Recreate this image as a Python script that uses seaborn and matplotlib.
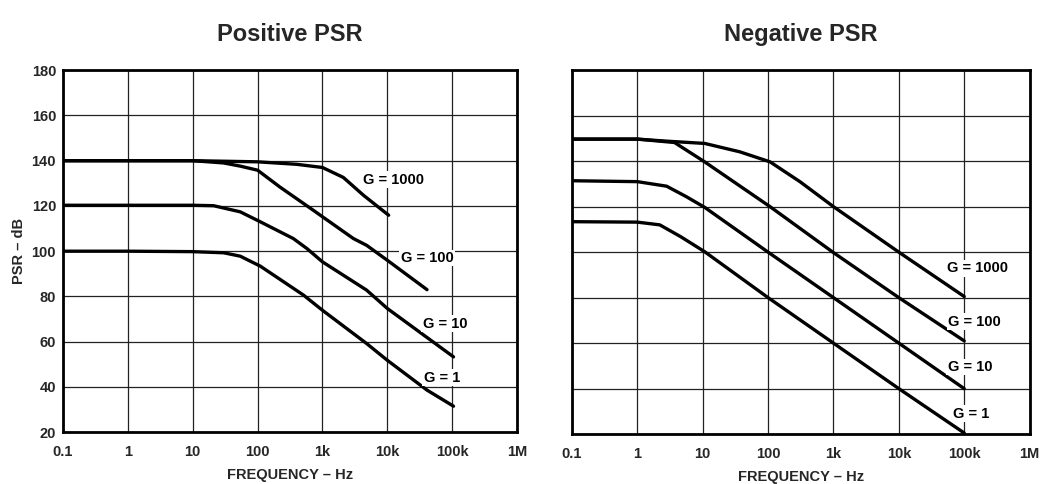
import numpy as np
import pandas as pd
import matplotlib
matplotlib.use("Agg")
import matplotlib.pyplot as plt
import seaborn as sns

# ---------------- data ----------------
gains = ["G = 1000", "G = 100", "G = 10", "G = 1"]

pos_f_1000 = [0.1, 1, 10, 100, 400, 1000, 2100, 4300, 10500]
pos_v_1000 = [140, 140, 140, 139.5, 138.4, 137, 132.6, 124.7, 115.9]
pos_f_100 = [0.1, 1, 10, 30, 54, 100, 220, 730, 3000, 4800, 10000, 41000]
pos_v_100 = [140, 140, 140, 139, 137.6, 135.8, 128.4, 118, 105.6, 102.6, 96, 83]
pos_f_10 = [0.1, 1, 10, 21, 54, 110, 355, 575, 1000, 4800, 10000, 105000]
pos_v_10 = [120.3, 120.3, 120.3, 120.1, 117.4, 113, 105.6, 101.2, 95.3, 82.8, 74.7, 53.3]
pos_f_1 = [0.1, 1, 10, 30, 54, 110, 510, 1000, 4800, 10000, 41000, 105000]
pos_v_1 = [100, 100, 99.8, 99.3, 97.8, 93.4, 80.6, 73.9, 59.2, 51.8, 38.6, 31.5]

neg_f_1000 = [0.1, 1, 2.8, 10.7, 37, 107, 310, 1000, 10000, 100000]
neg_v_1000 = [149.7, 149.7, 148.8, 147.8, 144.1, 139.7, 130.9, 120, 100, 80.5]
neg_f_100 = [0.1, 1, 3.7, 10.7, 107, 1000, 10000, 100000]
neg_v_100 = [149.7, 149.7, 148.2, 139.7, 120, 99.8, 80, 61]
neg_f_10 = [0.1, 1, 2.8, 5.6, 10.7, 100, 1000, 10000, 100000]
neg_v_10 = [131.4, 131, 129, 124.4, 119.7, 100, 80, 60, 40]
neg_f_1 = [0.1, 1, 2.2, 4.6, 10.7, 100, 1000, 10000, 100000]
neg_v_1 = [113.4, 113.2, 112, 106.8, 100.2, 80, 60, 40, 20.5]

x_ticks = [0.1, 1, 10, 100, 1000, 10000, 100000, 1000000]
x_tick_labels = ["0.1", "1", "10", "100", "1k", "10k", "100k", "1M"]
y_ticks = [20, 40, 60, 80, 100, 120, 140, 160, 180]

pos_label_x = [12500, 41000, 78000, 69000]
pos_label_y = [131.5, 97, 68, 44]
neg_label_x = [162000, 145000, 123000, 129000]
neg_label_y = [93, 69.5, 49.5, 29]

titles = ["Positive PSR", "Negative PSR"]


def frame(fs, vs):
    rows = []
    for g, f, v in zip(gains, fs, vs):
        for a, b in zip(f, v):
            rows.append({"gain": g, "freq": a, "psr": b})
    return pd.DataFrame(rows)


pos_df = frame([pos_f_1000, pos_f_100, pos_f_10, pos_f_1],
               [pos_v_1000, pos_v_100, pos_v_10, pos_v_1])
neg_df = frame([neg_f_1000, neg_f_100, neg_f_10, neg_f_1],
               [neg_v_1000, neg_v_100, neg_v_10, neg_v_1])

sns.set_style("white")
plt.rcParams["font.family"] = ["Liberation Sans", "DejaVu Sans"]
plt.rcParams["font.weight"] = "bold"

fig = plt.figure(figsize=(10.4, 4.84), dpi=100)
ax1 = fig.add_axes([0.0606, 0.107, 0.4365, 0.748])
ax2 = fig.add_axes([0.550, 0.103, 0.440, 0.752])

for ax, df, lx, ly, title, show_y in [
    (ax1, pos_df, pos_label_x, pos_label_y, titles[0], True),
    (ax2, neg_df, neg_label_x, neg_label_y, titles[1], False),
]:
    sns.lineplot(data=df, x="freq", y="psr", hue="gain", units="gain",
                 estimator=None, sort=True, palette=["black"] * 4,
                 linewidth=2.4, legend=False, ax=ax)
    for ln in ax.get_lines():
        ln.set_solid_joinstyle("round")
        ln.set_solid_capstyle("round")
    ax.set_xscale("log")
    ax.set_xlim(0.1, 1e6)
    ax.set_ylim(20, 180)
    ax.set_xticks(x_ticks)
    ax.set_xticklabels(x_tick_labels, fontsize=10.5, fontweight="bold")
    ax.xaxis.set_minor_locator(matplotlib.ticker.NullLocator())
    ax.set_yticks(y_ticks)
    if show_y:
        ax.set_yticklabels([str(t) for t in y_ticks], fontsize=10.5, fontweight="bold")
        ax.set_ylabel("PSR – dB", fontsize=10.5, fontweight="bold", labelpad=4)
    else:
        ax.set_yticklabels([])
        ax.set_ylabel("")
    ax.tick_params(axis="x", length=0, pad=9)
    ax.tick_params(axis="y", length=0, pad=5)
    ax.grid(True, which="major", color="#222222", linewidth=0.9)
    for s in ax.spines.values():
        s.set_color("black")
        s.set_linewidth(2.0)
    ax.set_xlabel("FREQUENCY – Hz", fontsize=10.5, fontweight="bold", labelpad=7)
    ax.set_title(title, fontsize=17, fontweight="bold", pad=21)
    for g, x, y in zip(gains, lx, ly):
        ax.text(x, y, g, ha="center", va="center", fontsize=10.5,
                fontweight="bold", color="black",
                bbox=dict(facecolor="white", edgecolor="none", pad=1))

fig.savefig("out.png", dpi=100, facecolor="white")
